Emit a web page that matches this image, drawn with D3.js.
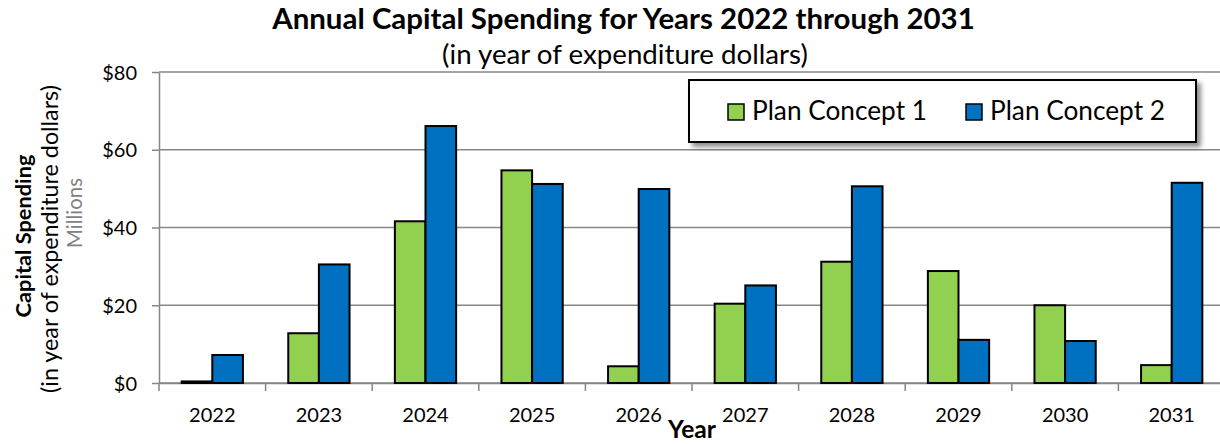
<!doctype html>
<html lang="en">
   <head>
      <meta charset="utf-8">
      <title>Annual Capital Spending</title>
      <style>
         body { margin: 0; background: #fff; }
         svg { display: block; }
         text { font-family: Lato, "Open Sans", sans-serif; fill: #000; }
         .grid line { stroke: #878787; stroke-width: 1.5px; }
         .axis path, .axis line { stroke: #878787; stroke-width: 1.5px; }
         .axis text { font-size: 20px; fill: #000; }
         rect.bar { stroke: #000; stroke-width: 2px; }
      </style>
   </head>
   <body>
      <script src="https://cdn.jsdelivr.net/npm/d3@7"></script>
      <svg id="chart" width="1220" height="444"></svg>
      <script>
         var years = ["2022", "2023", "2024", "2025", "2026", "2027", "2028", "2029", "2030", "2031"];
         var planConcept1 = [0.4, 12.8, 41.6, 54.7, 4.3, 20.4, 31.2, 28.8, 20.0, 4.6];
         var planConcept2 = [7.2, 30.5, 66.1, 51.2, 49.9, 25.1, 50.6, 11.1, 10.8, 51.5];
         var seriesNames = ["Plan Concept 1", "Plan Concept 2"];
         var seriesColors = ["#92d050", "#0070c0"];
         var yTicks = [0, 20, 40, 60, 80];

         var plotL = 159, plotR = 1225, plotT = 72, plotB = 383;
         var svg = d3.select("#chart");

         // shrink/grow a text's font so it spans the width seen in the picture
         function fit(sel, w) {
           var fs = parseFloat(sel.style("font-size"));
           var len = sel.node().getComputedTextLength();
           sel.style("font-size", (fs * w / len) + "px");
           return sel;
         }

         var defs = svg.append("defs");
         var f = defs.append("filter").attr("id", "shadow")
           .attr("x", "-10%").attr("y", "-20%").attr("width", "130%").attr("height", "160%");
         f.append("feDropShadow").attr("dx", 4).attr("dy", 4).attr("stdDeviation", 2.5)
           .attr("flood-color", "#000").attr("flood-opacity", 0.45);

         var x = d3.scaleBand().domain(years).range([plotL, plotR]).padding(0);
         var x1 = d3.scaleBand().domain([0, 1]).range([0, x.bandwidth()]).paddingInner(0).paddingOuter(0.74);
         var y = d3.scaleLinear().domain([0, 80]).range([plotB, plotT]);

         // gridlines
         svg.append("g").attr("class", "grid").selectAll("line")
           .data(yTicks).enter().append("line")
             .attr("x1", plotL).attr("x2", plotR)
             .attr("y1", d => y(d)).attr("y2", d => y(d));

         // y axis
         var yAxis = svg.append("g").attr("class", "axis")
           .attr("transform", "translate(" + plotL + ",0)")
           .call(d3.axisLeft(y).tickValues(yTicks).tickFormat(d => "$" + d).tickSize(7).tickSizeOuter(0).tickPadding(15));
         yAxis.selectAll("text").attr("dy", "0.35em");

         // x axis labels + boundary ticks
         var xAxis = svg.append("g").attr("class", "axis")
           .attr("transform", "translate(0," + plotB + ")")
           .call(d3.axisBottom(x).tickSize(0).tickSizeOuter(0).tickPadding(25));
         xAxis.selectAll(".tick line").remove();
         var bounds = years.map(d => x(d)).concat([x(years[years.length - 1]) + x.bandwidth()]);
         xAxis.selectAll("line.bound").data(bounds).enter().append("line")
           .attr("class", "bound")
           .attr("x1", d => d).attr("x2", d => d).attr("y1", 0).attr("y2", 8);

         // bars
         var rows = years.map((yr, i) => ({ year: yr, vals: [planConcept1[i], planConcept2[i]] }));
         var groups = svg.append("g").selectAll("g").data(rows).enter().append("g")
           .attr("transform", d => "translate(" + x(d.year) + ",0)");
         groups.selectAll("rect").data(d => d.vals.map((v, k) => ({ k: k, v: v }))).enter().append("rect")
           .attr("class", "bar")
           .attr("x", d => x1(d.k))
           .attr("y", d => y(d.v))
           .attr("width", x1.bandwidth())
           .attr("height", d => y(0) - y(d.v))
           .style("fill", d => seriesColors[d.k]);

         // titles
         fit(svg.append("text").attr("x", 623.5).attr("y", 29).attr("text-anchor", "middle")
           .style("font-size", "24px").style("font-weight", "bold")
           .text("Annual Capital Spending for Years 2022 through 2031"), 703);
         fit(svg.append("text").attr("x", 625).attr("y", 64).attr("text-anchor", "middle")
           .style("font-size", "22px")
           .text("(in year of expenditure dollars)"), 366);

         fit(svg.append("text").attr("x", 692).attr("y", 438).attr("text-anchor", "middle")
           .style("font-size", "20px").style("font-weight", "bold")
           .text("Year"), 48);

         // y axis titles (rotated)
         fit(svg.append("text").attr("transform", "translate(31,236) rotate(-90)").attr("text-anchor", "middle")
           .style("font-size", "20px").style("font-weight", "bold")
           .text("Capital Spending"), 163);
         fit(svg.append("text").attr("transform", "translate(58,239) rotate(-90)").attr("text-anchor", "middle")
           .style("font-size", "20px")
           .text("(in year of expenditure dollars)"), 308);
         fit(svg.append("text").attr("transform", "translate(82,213) rotate(-90)").attr("text-anchor", "middle")
           .style("font-size", "16px").style("fill", "#808080")
           .text("Millions"), 70);

         // legend
         var lg = svg.append("g");
         lg.append("rect").attr("x", 689).attr("y", 80).attr("width", 507).attr("height", 62)
           .style("fill", "#fff").style("stroke", "#000").style("stroke-width", 2)
           .attr("filter", "url(#shadow)");
         var legX = [728, 966];
         seriesNames.forEach((name, k) => {
           lg.append("rect").attr("x", legX[k]).attr("y", 104).attr("width", 16).attr("height", 16)
             .style("fill", seriesColors[k]).style("stroke", "#000").style("stroke-width", 1.5);
           fit(lg.append("text").attr("x", legX[k] + 24).attr("y", 120)
             .style("font-size", "22px").text(name), 175);
         });
      </script>
   </body>
</html>
